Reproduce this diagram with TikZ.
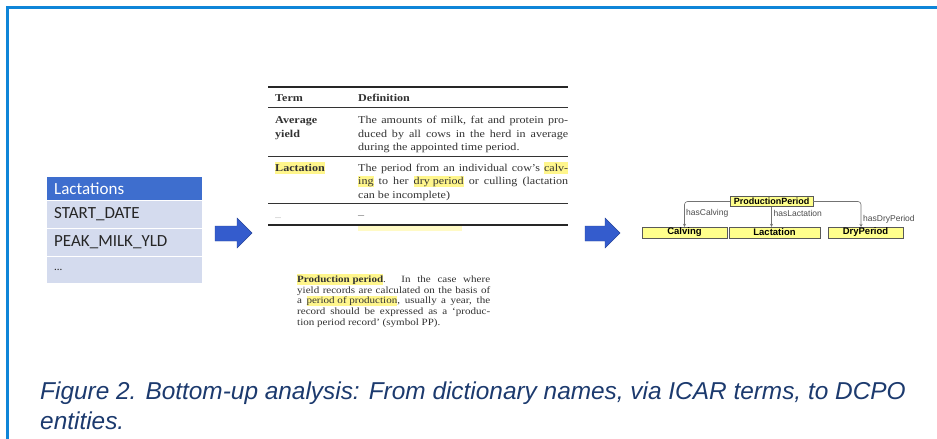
\documentclass[tikz,border=0pt]{standalone}
\usepackage{fontspec}
\setmainfont[FakeStretch=1.15]{Liberation Serif}
\newfontfamily\capfont{Liberation Sans}
\newfontfamily\dbfont{Carlito}
\newfontfamily\ontofont{Liberation Sans}
\usetikzlibrary{arrows.meta}

\definecolor{frameblue}{RGB}{14,133,216}
\definecolor{headblue}{RGB}{62,110,206}
\definecolor{rowblue}{RGB}{212,219,238}
\definecolor{arrowblue}{RGB}{52,92,205}
\definecolor{hlyellow}{RGB}{255,246,140}
\definecolor{captionblue}{RGB}{28,58,110}
\definecolor{ontoyellow}{RGB}{255,255,140}
\definecolor{inkgrey}{RGB}{50,50,50}

% yellow marker behind a piece of text, without changing its width
\newsavebox\hlsave
\newcommand\hlt[1]{\sbox\hlsave{#1}\rlap{\textcolor{hlyellow}{\rule[-0.28em]{\wd\hlsave}{1.12em}}}\usebox\hlsave}
% a justified line of given width
\newcommand\jline[2]{\makebox[#1][s]{#2}}

\begin{document}
\begin{tikzpicture}[x=1pt,y=1pt,
  dbrow/.style={fill=rowblue, minimum width=155pt, minimum height=27pt, inner sep=0, anchor=north west},
  dbtext/.style={anchor=west, inner sep=0, font=\dbfont\fontsize{17}{17}\selectfont, text=black!85},
  bigarrow/.style={fill=arrowblue, draw=arrowblue!75!black, line width=0.4pt},
  rulethick/.style={line width=1.1pt, black!85},
  rulethin/.style={line width=0.6pt, black!80},
  cell/.style={anchor=base west, inner sep=0, font=\fontsize{10.5}{10.5}\selectfont, text=inkgrey},
  termcell/.style={cell, font=\bfseries\fontsize{10.5}{10.5}\selectfont},
  para/.style={anchor=base west, inner sep=0, font=\fontsize{9.6}{9.6}\selectfont, text=inkgrey},
  obox/.style={draw=black!65, fill=ontoyellow, inner sep=0, minimum height=11pt,
    font=\ontofont\bfseries\fontsize{9.5}{9.5}\selectfont},
  rel/.style={draw=black!55, line width=0.6pt, rounded corners=3pt, -{Stealth[length=3pt,width=3pt]}},
  rellabel/.style={anchor=west, inner sep=0, font=\ontofont\fontsize{8.5}{8.5}\selectfont, text=black!70},
  caption/.style={anchor=base west, inner sep=0, text=captionblue, font=\capfont\itshape\fontsize{24.4}{24.4}\selectfont}]

\useasboundingbox (0,0) rectangle (937,-439);
\fill[white] (0,0) rectangle (937,-439);

% frame
\draw[frameblue, line width=3pt] (7,-439) -- (7,-7) -- (937,-7);

% database table
\node[fill=headblue, minimum width=155pt, minimum height=23pt, inner sep=0, anchor=north west] (lact) at (47,-177) {};
\node[dbtext, text=white] (lacttxt) at ([xshift=7pt]lact.west) {Lactations};
\node[dbrow] (r1) at (47,-200.5) {};
\node[dbrow] (r2) at (47,-228.5) {};
\node[dbrow, minimum height=26pt] (r3) at (47,-256.5) {};
\node[dbtext] (r1t) at ([xshift=7pt]r1.west) {START\_DATE};
\node[dbtext] (r2t) at ([xshift=7pt]r2.west) {PEAK\_MILK\_YLD};
\node[dbtext, font=\dbfont\fontsize{11}{11}\selectfont] (r3t) at ([xshift=7pt]r3.west) {...};

% block arrows
\fill[bigarrow] (215,-226) -- (237,-226) -- (237,-218) -- (252,-233) -- (237,-248) -- (237,-241) -- (215,-241) -- cycle;
\fill[bigarrow] (585,-226) -- (605,-226) -- (605,-218) -- (620,-233) -- (605,-248) -- (605,-241) -- (585,-241) -- cycle;

% ICAR terms table
\draw[rulethick] (268,-87) -- (568,-87);
\node[termcell] (hterm) at (275,-101) {Term};
\node[termcell] (hdef) at (358,-101) {Definition};
\draw[rulethin] (268,-107) -- (568,-107);

\node[termcell] (t1a) at (275,-123.5) {Average};
\node[termcell] (t1b) at (275,-137) {yield};
\node[cell] (d1a) at (358,-123.5) {\jline{210pt}{The amounts of milk, fat and protein pro-}};
\node[cell] (d1b) at (358,-137) {\jline{210pt}{duced by all cows in the herd in average}};
\node[cell] (d1c) at (358,-150.5) {during the appointed time period.};
\draw[rulethin] (268,-156) -- (568,-156);

\node[termcell] (t2) at (275,-171) {\hlt{Lactation}};
\node[cell] (d2a) at (358,-171) {\jline{210pt}{The period from an individual cow's \hlt{calv-}}};
\node[cell] (d2b) at (358,-184.5) {\jline{210pt}{\hlt{ing} to her \hlt{dry period} or culling (lactation}};
\node[cell] (d2c) at (358,-198) {can be incomplete)};
\draw[rulethin] (268,-203) -- (568,-203);

\node[cell, font=\fontsize{7}{7}\selectfont, text=black!50] (t3) at (275,-218) {...};
\node[cell, text=black!60] (d3) at (358,-218) {--};
\draw[rulethick] (268,-225) -- (568,-225);
\fill[hlyellow, opacity=0.5] (358,-226) rectangle (462,-231);

% definition paragraph
\node[para] (p1) at (297,-282) {\jline{193pt}{\textbf{\hlt{Production period}}. In the case where}};
\node[para] (p2) at (297,-293) {\jline{193pt}{yield records are calculated on the basis of}};
\node[para] (p3) at (297,-303.8) {\jline{193pt}{a \hlt{period of production}, usually a year, the}};
\node[para] (p4) at (297,-314.6) {\jline{193pt}{record should be expressed as a `produc-}};
\node[para] (p5) at (297,-325.4) {tion period record' (symbol PP).};

% DCPO entities
\node[obox, font=\ontofont\bfseries\fontsize{9}{9}\selectfont, minimum width=83pt, minimum height=10pt] (pp) at (771.5,-201.5) {ProductionPeriod};
\node[obox, minimum width=85pt] (calv) at (684.5,-232.5) {Calving};
\node[obox, minimum width=91pt] (lac) at (774.5,-232.5) {Lactation};
\node[obox, minimum width=75pt] (dry) at (865.5,-232.5) {DryPeriod};
\coordinate (dryin) at (861,-227);
\draw[rel] (pp.west) -| (calv.north);
\draw[rel] (pp.south) -- (pp.south |- lac.north);
\draw[rel] (pp.east) -| (dryin);
\node[rellabel] (lc) at (686,-213) {hasCalving};
\node[rellabel] (ll) at (773.5,-213) {hasLactation};
\node[rellabel] (ld) at (863,-219) {hasDryPeriod};

% caption
\node[caption] (cap1) at (40,-399) {Figure 2. Bottom-up analysis: From dictionary names, via ICAR terms, to DCPO};
\node[caption] (cap2) at (40,-429) {entities.};
\end{tikzpicture}
\end{document}
